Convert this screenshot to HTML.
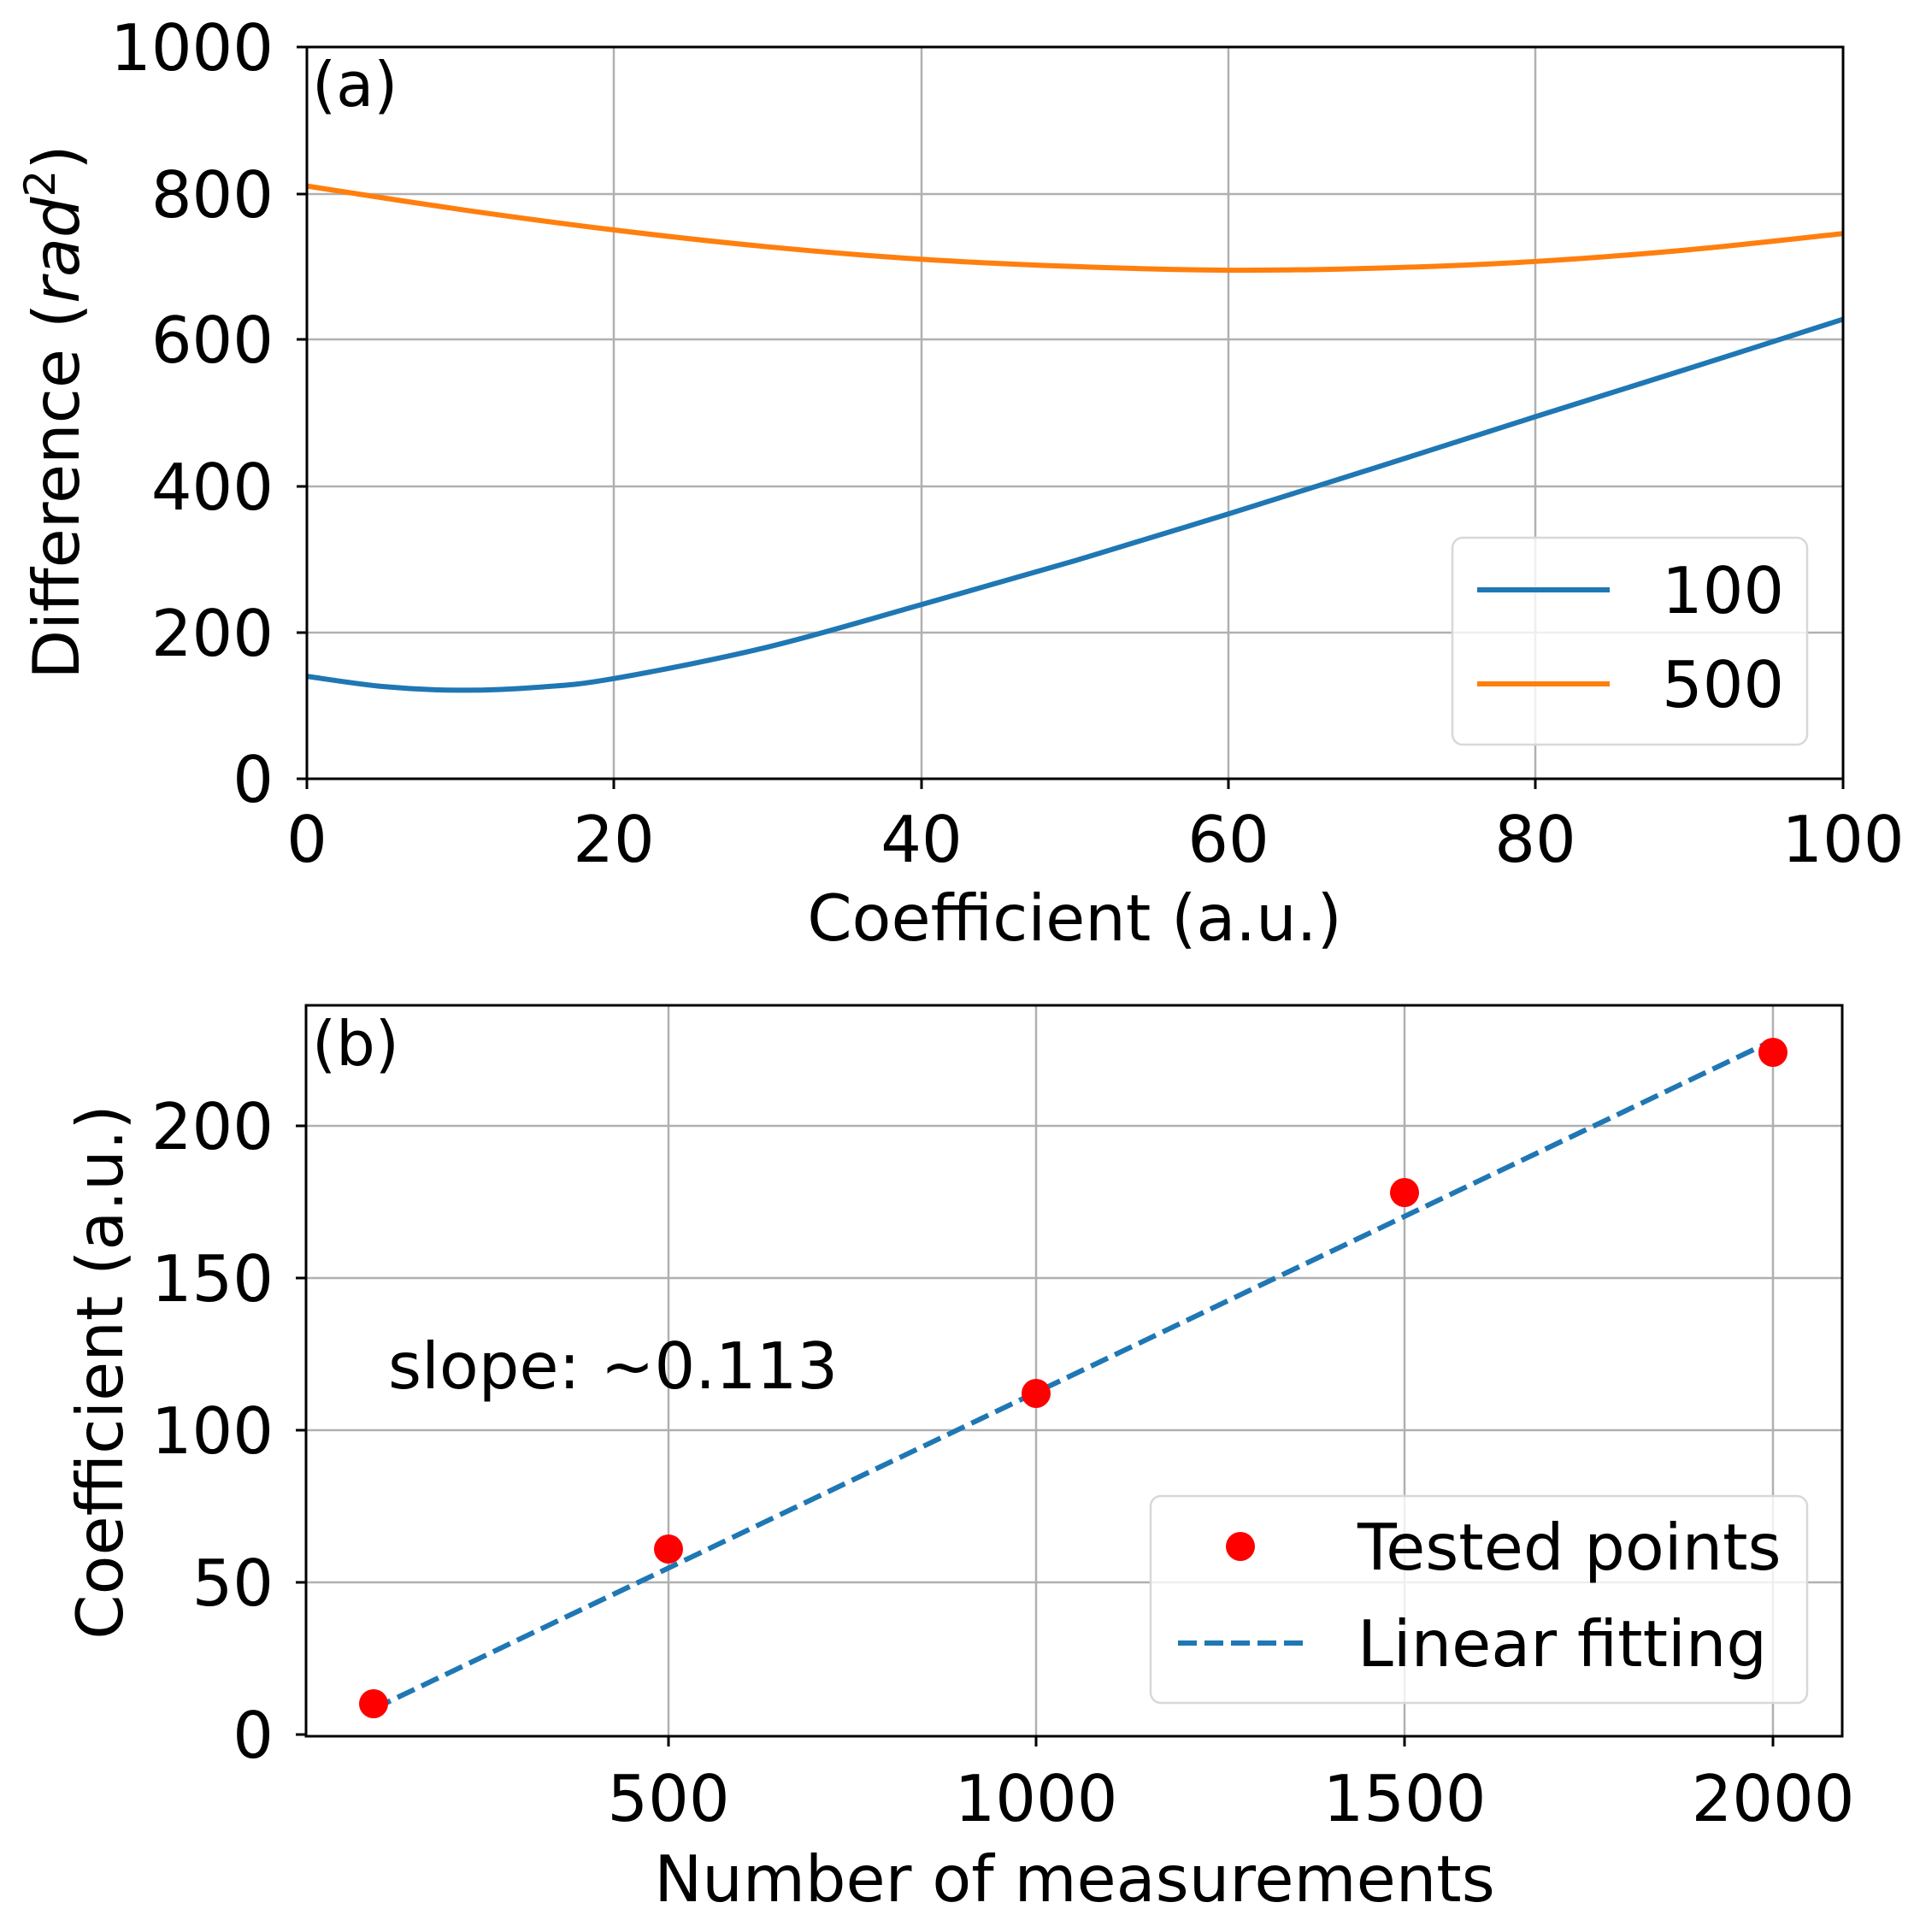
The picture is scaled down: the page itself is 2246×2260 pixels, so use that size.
<!DOCTYPE html>
<html><head><meta charset="utf-8">
<style>html,body{margin:0;padding:0;background:#fff}svg{display:block}text{font-family:"DejaVu Sans","Liberation Sans",sans-serif;fill:#000}</style>
</head><body>
<svg id="s" width="2246" height="2260" viewBox="0 0 2246 2260" xmlns="http://www.w3.org/2000/svg">
<rect width="2246" height="2260" fill="#fff"/>
<g stroke="#b0b0b0" stroke-width="2.5">
<line x1="718" y1="55" x2="718" y2="911"/><line x1="1078" y1="55" x2="1078" y2="911"/><line x1="1437" y1="55" x2="1437" y2="911"/><line x1="1796" y1="55" x2="1796" y2="911"/>
<line x1="359" y1="740" x2="2156" y2="740"/><line x1="359" y1="569" x2="2156" y2="569"/><line x1="359" y1="397" x2="2156" y2="397"/><line x1="359" y1="227" x2="2156" y2="227"/>
<line x1="782" y1="1176" x2="782" y2="2031"/><line x1="1212" y1="1176" x2="1212" y2="2031"/><line x1="1643" y1="1176" x2="1643" y2="2031"/><line x1="2074" y1="1176" x2="2074" y2="2031"/>
<line x1="358" y1="1851" x2="2155" y2="1851"/><line x1="358" y1="1673" x2="2155" y2="1673"/><line x1="358" y1="1495" x2="2155" y2="1495"/><line x1="358" y1="1317" x2="2155" y2="1317"/>
</g>
<path id="blue" fill="none" stroke="#1f77b4" stroke-width="6"/>
<path id="orange" fill="none" stroke="#ff7f0e" stroke-width="6"/>
<g stroke="#000" stroke-width="3" fill="none">
<rect x="359" y="55" width="1797" height="856"/>
<rect x="358" y="1176" width="1797" height="855"/>
<path d="M359 911v12M718 911v12M1078 911v12M1437 911v12M1796 911v12M2156 911v12M359 911h-12M359 740h-12M359 569h-12M359 397h-12M359 227h-12M359 55h-12"/>
<path d="M782 2031v12M1212 2031v12M1643 2031v12M2074 2031v12M358 2029h-12M358 1851h-12M358 1673h-12M358 1495h-12M358 1317h-12"/>
</g>
<g font-size="75" text-anchor="end">
<text x="320" y="938">0</text><text x="320" y="767">200</text><text x="320" y="596">400</text><text x="320" y="424">600</text><text x="320" y="254">800</text><text x="320" y="82">1000</text>
<text x="320" y="2056">0</text><text x="320" y="1878">50</text><text x="320" y="1700">100</text><text x="320" y="1522">150</text><text x="320" y="1344">200</text>
</g>
<g font-size="75" text-anchor="middle">
<text x="359" y="1008">0</text><text x="718" y="1008">20</text><text x="1078" y="1008">40</text><text x="1437" y="1008">60</text><text x="1796" y="1008">80</text><text x="2156" y="1008">100</text>
<text x="782" y="2130">500</text><text x="1212" y="2130">1000</text><text x="1643" y="2130">1500</text><text x="2074" y="2130">2000</text>
<text x="1257" y="1100">Coefficient (a.u.)</text>
<text x="1257" y="2224">Number of measurements</text>
<text transform="translate(92,482) rotate(-90)">Difference (<tspan font-style="italic">rad</tspan><tspan font-size="50" dy="-28">2</tspan><tspan dy="28">)</tspan></text>
<text transform="translate(143,1605) rotate(-90)">Coefficient (a.u.)</text>
</g>
<g font-size="72">
<text x="365" y="124">(a)</text><text x="365" y="1246">(b)</text>
</g>
<text x="454" y="1624" font-size="75">slope: ~0.113</text>
<path d="M437 1999L2074 1217" stroke="#1f77b4" stroke-width="6" stroke-dasharray="22 9" fill="none"/>
<g fill="#ff0000">
<circle cx="437" cy="1993" r="17"/><circle cx="782" cy="1812" r="17"/><circle cx="1212" cy="1630" r="17"/><circle cx="1643" cy="1395" r="17"/><circle cx="2074" cy="1231" r="17"/>
</g>
<rect x="1699" y="629" width="415" height="242" rx="12" fill="#fff" fill-opacity="0.8" stroke="#d8d8d8" stroke-width="2.5"/>
<line x1="1728" y1="690" x2="1883" y2="690" stroke="#1f77b4" stroke-width="6"/>
<line x1="1728" y1="800" x2="1883" y2="800" stroke="#ff7f0e" stroke-width="6"/>
<text x="1944" y="717" font-size="75">100</text><text x="1944" y="827" font-size="75">500</text>
<rect x="1346" y="1750" width="768" height="242" rx="12" fill="#fff" fill-opacity="0.8" stroke="#d8d8d8" stroke-width="2.5"/>
<circle cx="1451" cy="1809" r="17" fill="#ff0000"/>
<line x1="1378" y1="1922" x2="1526" y2="1922" stroke="#1f77b4" stroke-width="6" stroke-dasharray="22 9"/>
<text x="1588" y="1836" font-size="75">Tested points</text><text x="1588" y="1949" font-size="75">Linear fitting</text>
</svg>
<script>
function cr(pts){var d="M"+pts[0][0]+" "+pts[0][1];for(var i=0;i<pts.length-1;i++){var p0=pts[Math.max(0,i-1)],p1=pts[i],p2=pts[i+1],p3=pts[Math.min(pts.length-1,i+2)];d+="C"+(p1[0]+(p2[0]-p0[0])/6)+" "+(p1[1]+(p2[1]-p0[1])/6)+" "+(p2[0]-(p3[0]-p1[0])/6)+" "+(p2[1]-(p3[1]-p1[1])/6)+" "+p2[0]+" "+p2[1];}return d;}
function m(a){return a.map(function(p){return[359+p[0]*17.97,911-p[1]*0.856];});}
document.getElementById("blue").setAttribute("d",cr(m([[0,140],[5,126],[10,121],[15,125],[20,137],[30,180],[40,238],[50,298],[60,362],[70,428],[80,495],[90,561],[100,628]])));
document.getElementById("orange").setAttribute("d",cr(m([[0,810],[10,778],[20,750],[30,727],[40,710],[50,700],[60,695],[70,698],[80,707],[90,723],[100,745]])));
</script>
</body></html>
